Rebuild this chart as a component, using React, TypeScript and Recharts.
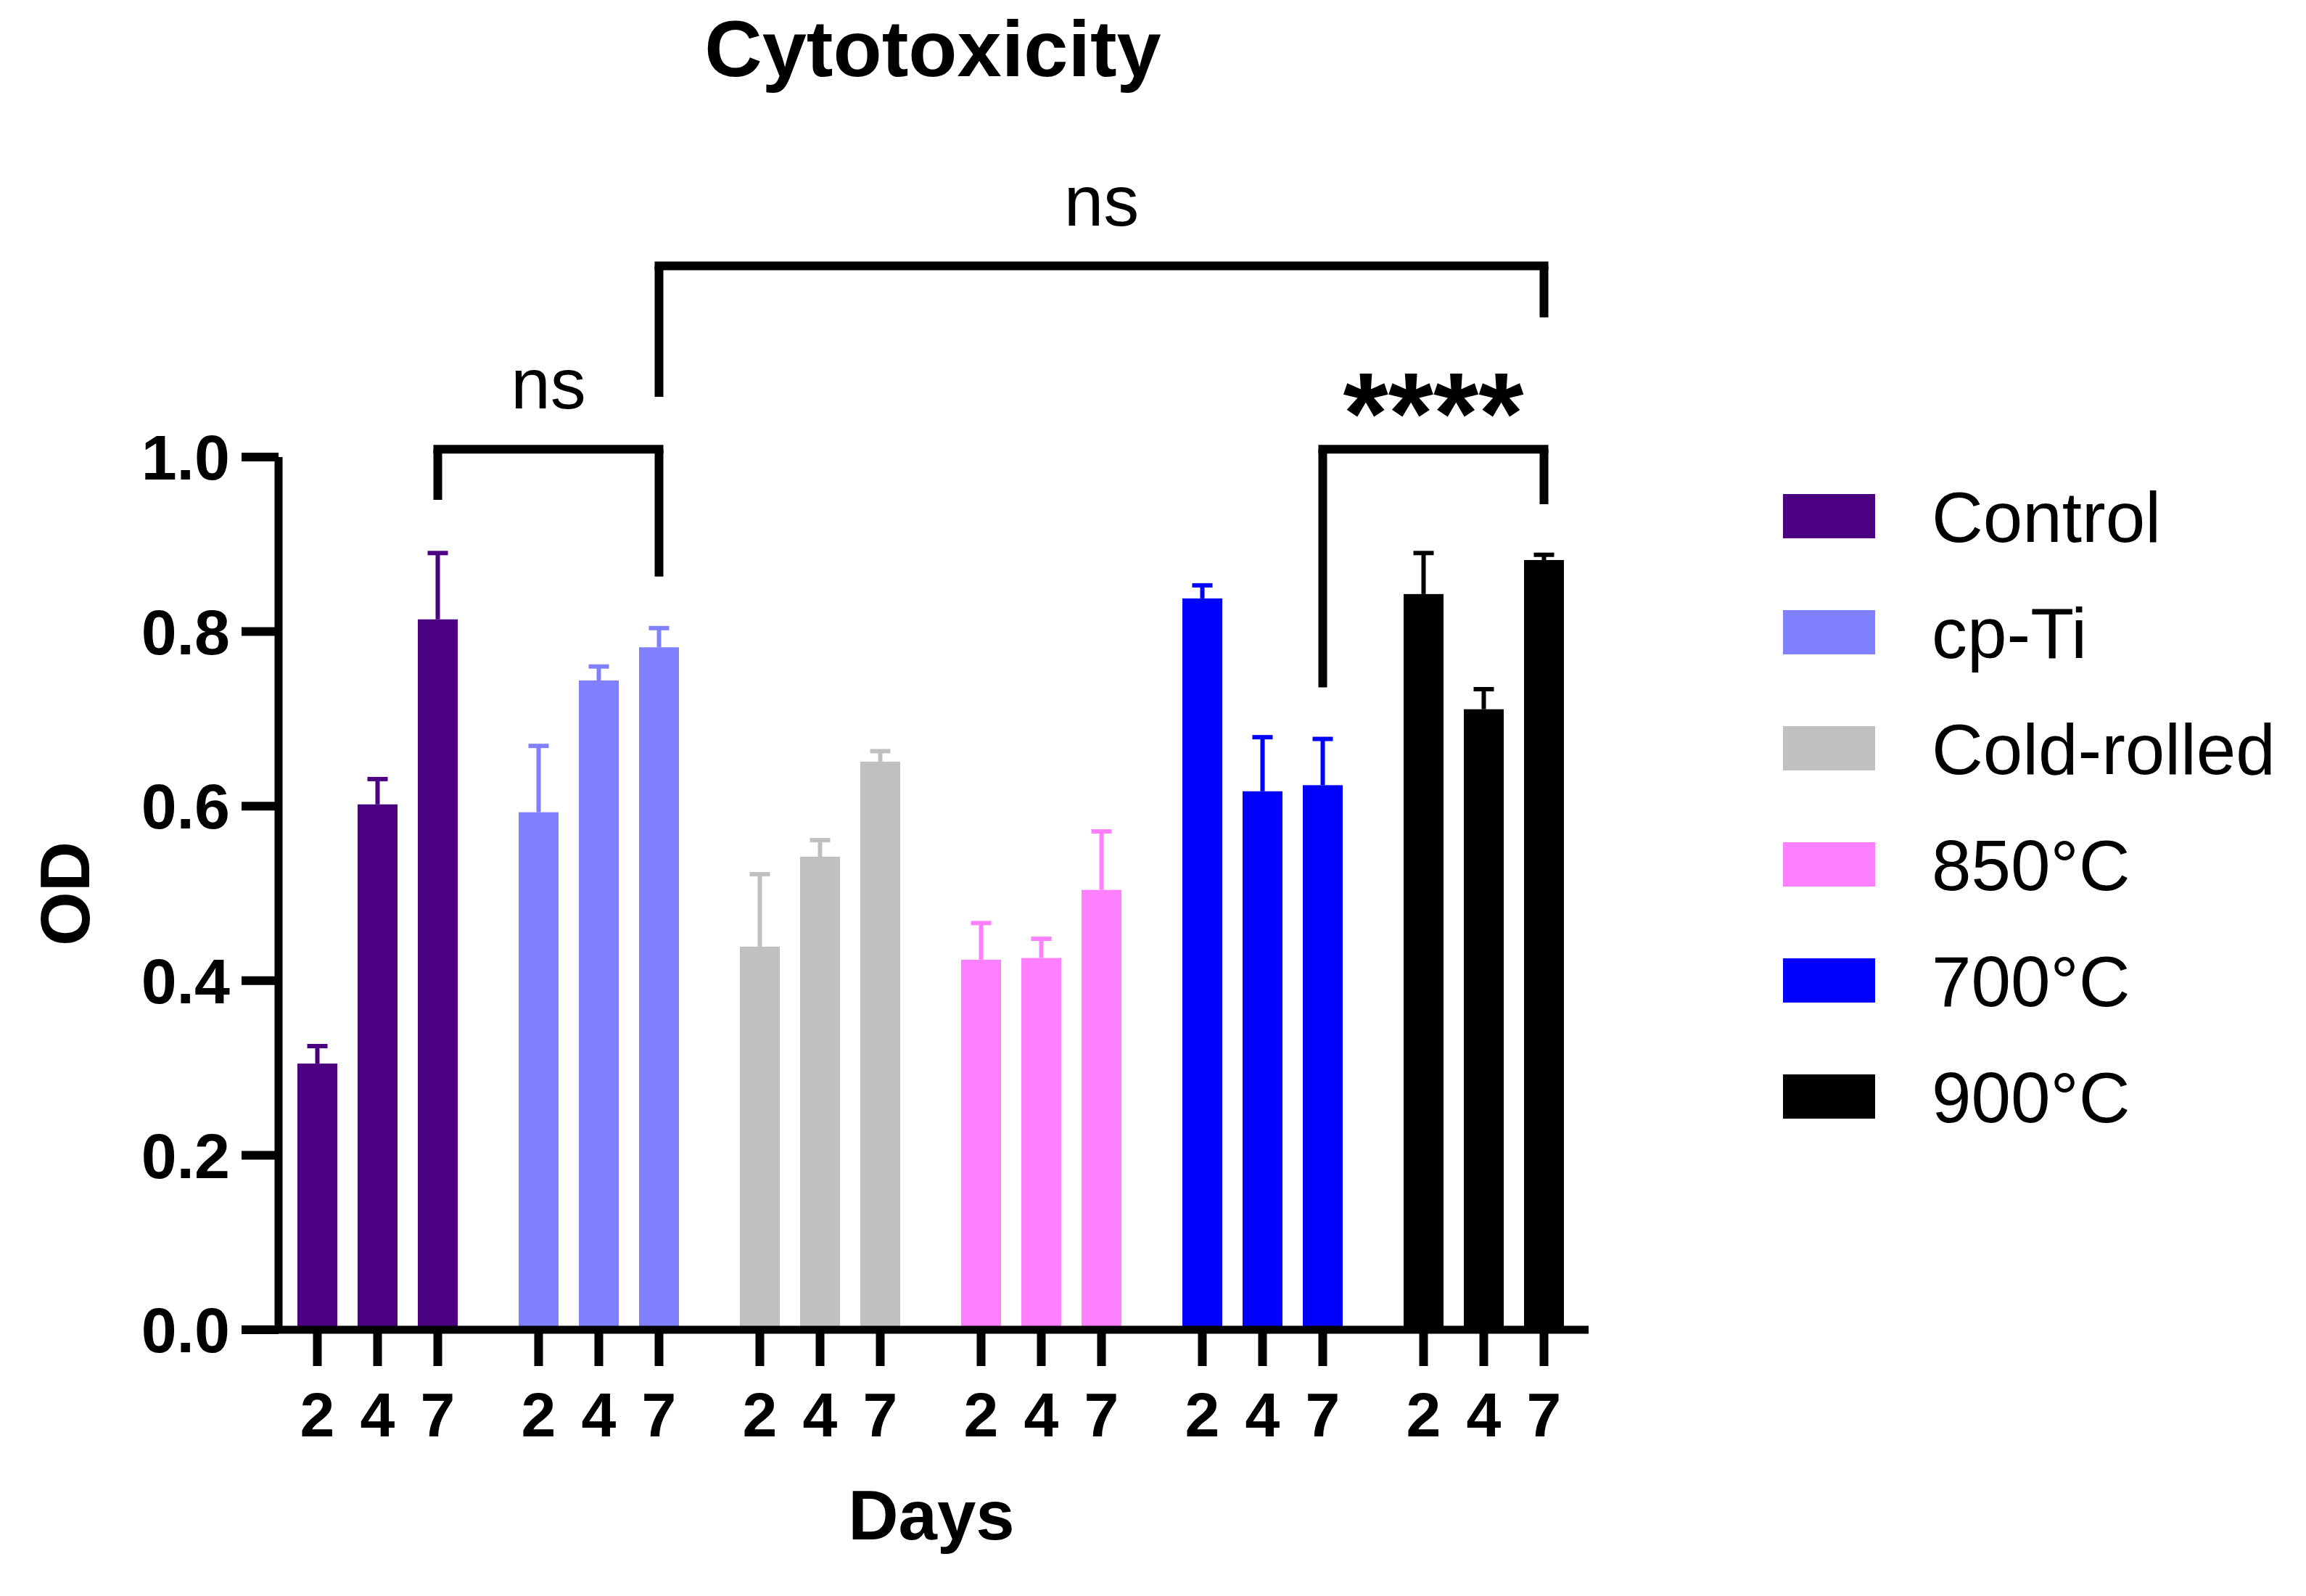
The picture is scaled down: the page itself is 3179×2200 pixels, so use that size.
import { BarChart, Bar, XAxis, YAxis, ReferenceLine } from 'recharts';

// groups (materials) and days measured
const GROUPS = ['Control', 'cp-Ti', 'Cold-rolled', '850°C', '700°C', '900°C'];
const COLORS = ['#4B0082', '#8080FF', '#C0C0C0', '#FF80FF', '#0000FF', '#000000'];
const DAYS = ['2', '4', '7'];

// mean OD per group, one array per day
const DAY2_OD = [0.305, 0.593, 0.439, 0.424, 0.838, 0.843];
const DAY4_OD = [0.602, 0.744, 0.542, 0.426, 0.617, 0.711];
const DAY7_OD = [0.814, 0.782, 0.651, 0.504, 0.624, 0.882];

// SD (upper error bar only)
const DAY2_SD = [0.02, 0.076, 0.083, 0.042, 0.015, 0.047];
const DAY4_SD = [0.029, 0.016, 0.019, 0.022, 0.062, 0.023];
const DAY7_SD = [0.076, 0.022, 0.012, 0.067, 0.053, 0.006];

const Y_TICKS = [0, 0.2, 0.4, 0.6, 0.8, 1.0];

// significance brackets: [group, day] ends, heights in OD units
const BRACKETS = [
  { from: [0, 2], to: [1, 2], top: 1.009, left: 0.951, right: 0.863, text: 'ns' },
  { from: [1, 2], to: [5, 2], top: 1.219, left: 1.069, right: 1.16, text: 'ns' },
  { from: [4, 2], to: [5, 2], top: 1.009, left: 0.736, right: 0.946, text: '****' },
];

const FONT = '"Liberation Sans", Arial, Helvetica, sans-serif';
const W = 3179;
const H = 2200;
const TOP = 630;
const RIGHT = 989;
const Y_AXIS_W = 384;
const X_AXIS_H = 367;
const PAD = { left: -16, right: -8 };
const BAR_SIZE = 55;
const BAR_GAP = 28;
const STEP = BAR_SIZE + BAR_GAP;
const BAND = (W - Y_AXIS_W - RIGHT - PAD.left - PAD.right) / GROUPS.length;
// numeric helper axis: group index -> band centre
const POS_PAD = { left: PAD.left + BAND / 2, right: PAD.right + BAND / 2 };

const SERIES = [DAY2_OD, DAY4_OD, DAY7_OD];
const ERRORS = [DAY2_SD, DAY4_SD, DAY7_SD];

const data = GROUPS.map((g, i) => {
  const row: Record<string, any> = { group: g, pos: i, color: COLORS[i] };
  SERIES.forEach((s, d) => {
    row[`d${d}`] = s[i];
    row[`e${d}`] = ERRORS[d][i];
  });
  return row;
});

// x position on the helper axis of a given bar
const posOf = (group: number, day: number) => group + ((day - 1) * STEP) / BAND;

const barShape = (day: number) => (props: any) => {
  const { x, y, width, height, payload } = props;
  const color = payload.color;
  const value = payload[`d${day}`];
  const err = payload[`e${day}`];
  const errPx = value ? (height * err) / value : 0;
  const cx = x + width / 2;
  const top = y - errPx;
  return (
    <g>
      <rect x={x} y={y} width={width} height={height} fill={color} />
      <line x1={cx} x2={cx} y1={y} y2={top} stroke={color} strokeWidth={6} />
      <line x1={cx - 14} x2={cx + 14} y1={top} y2={top} stroke={color} strokeWidth={6} />
    </g>
  );
};

const DayTicks = (props: any) => {
  const { x, y } = props;
  return (
    <g>
      {DAYS.map((d, k) => {
        const cx = x + (k - 1) * STEP;
        return (
          <g key={d}>
            <line x1={cx} x2={cx} y1={y} y2={y + 50} stroke="#000" strokeWidth={12} />
            <text
              x={cx}
              y={y + 147}
              textAnchor="middle"
              fontSize={86}
              fontWeight="bold"
              fontFamily={FONT}
              fill="#000"
            >
              {d}
            </text>
          </g>
        );
      })}
    </g>
  );
};

export default function App() {
  return (
    <div style={{ position: 'absolute', left: 0, top: 0, width: W, height: H, background: '#fff' }}>
      <BarChart
        width={W}
        height={H}
        data={data}
        margin={{ top: TOP, right: RIGHT, bottom: 0, left: 0 }}
        barSize={BAR_SIZE}
        barGap={BAR_GAP}
      >
        <XAxis
          dataKey="group"
          height={X_AXIS_H}
          padding={PAD}
          interval={0}
          tickLine={false}
          tickSize={0}
          tickMargin={0}
          tick={<DayTicks />}
          axisLine={{ stroke: '#000', strokeWidth: 11 }}
        />
        <XAxis
          xAxisId="pos"
          dataKey="pos"
          type="number"
          domain={[0, GROUPS.length - 1]}
          allowDataOverflow
          hide
          padding={POS_PAD}
        />
        <YAxis
          width={Y_AXIS_W}
          domain={[0, 1]}
          ticks={Y_TICKS}
          interval={0}
          tickFormatter={(v: number) => v.toFixed(1)}
          tickSize={51}
          tickMargin={16}
          tickLine={{ stroke: '#000', strokeWidth: 12 }}
          axisLine={{ stroke: '#000', strokeWidth: 11 }}
          tick={{ fontSize: 88, fontWeight: 'bold', fill: '#000', fontFamily: FONT }}
        />
        {SERIES.map((_, d) => (
          <Bar key={d} dataKey={`d${d}`} name={`Day ${DAYS[d]}`} shape={barShape(d)} isAnimationActive={false} />
        ))}
        {BRACKETS.flatMap((b, i) => {
          const x1 = posOf(b.from[0], b.from[1]);
          const x2 = posOf(b.to[0], b.to[1]);
          const stars = b.text === '****';
          return [
            <ReferenceLine
              key={`l${i}`}
              xAxisId="pos"
              segment={[{ x: x1, y: b.left }, { x: x1, y: b.top }]}
              stroke="#000"
              strokeWidth={12}
              ifOverflow="visible"
            />,
            <ReferenceLine
              key={`r${i}`}
              xAxisId="pos"
              segment={[{ x: x2, y: b.right }, { x: x2, y: b.top }]}
              stroke="#000"
              strokeWidth={12}
              ifOverflow="visible"
            />,
            <ReferenceLine
              key={`h${i}`}
              xAxisId="pos"
              segment={[{ x: x1, y: b.top }, { x: x2, y: b.top }]}
              stroke="#000"
              strokeWidth={12}
              strokeLinecap="square"
              ifOverflow="visible"
              label={{
                value: b.text,
                position: 'top',
                offset: stars ? -6 : 56,
                fontSize: stars ? 160 : 98,
                fontWeight: stars ? 'bold' : 'normal',
                fontFamily: FONT,
                fill: '#000',
              }}
            />,
          ];
        })}
      </BarChart>
      <svg
        width={W}
        height={H}
        style={{ position: 'absolute', left: 0, top: 0, pointerEvents: 'none' }}
        fontFamily={FONT}
      >
        <text x={1286} y={105} textAnchor="middle" fontSize={110} fontWeight="bold" fill="#000">
          Cytotoxicity
        </text>
        <text
          x={123}
          y={1232}
          textAnchor="middle"
          fontSize={96}
          fontWeight="bold"
          fill="#000"
          transform="rotate(-90, 123, 1232)"
        >
          OD
        </text>
        <text x={1284} y={2122} textAnchor="middle" fontSize={96} fontWeight="bold" fill="#000">
          Days
        </text>
        {GROUPS.map((g, i) => {
          const cy = 712 + i * 160;
          return (
            <g key={g}>
              <rect x={2458} y={cy - 31} width={127} height={61} fill={COLORS[i]} />
              <text x={2663} y={cy + 35} fontSize={98} fill="#000">
                {g}
              </text>
            </g>
          );
        })}
      </svg>
    </div>
  );
}
